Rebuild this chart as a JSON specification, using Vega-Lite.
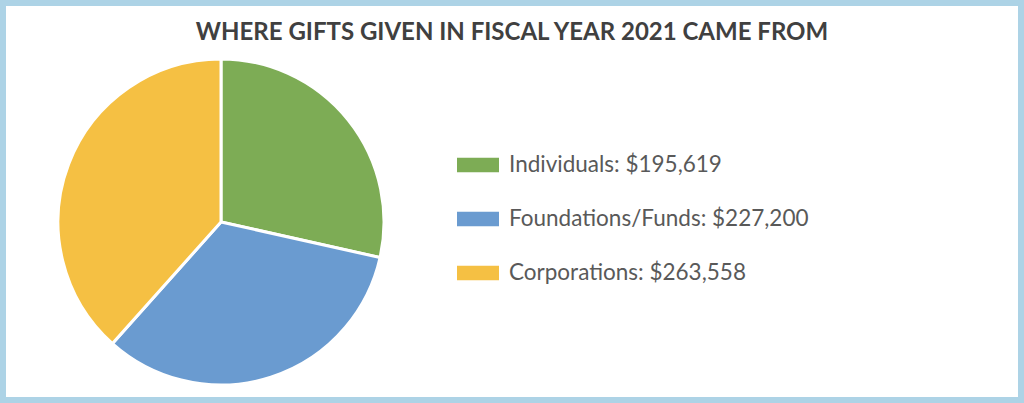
{
  "$schema": "https://vega.github.io/schema/vega-lite/v6.json",
  "width": 1024,
  "height": 403,
  "autosize": {"type": "fit", "contains": "padding"},
  "padding": 0,
  "background": "#ffffff",
  "config": {
    "view": {"stroke": "#ADD3E6", "strokeWidth": 12, "fill": "#ffffff"}
  },
  "title": {
    "text": "WHERE GIFTS GIVEN IN FISCAL YEAR 2021 CAME FROM",
    "font": "Lato",
    "fontSize": 24,
    "fontWeight": "bold",
    "color": "#404040",
    "anchor": "middle",
    "frame": "group",
    "orient": "top",
    "baseline": "top",
    "offset": -45
  },
  "data": {
    "values": [
      {"source": "Individuals", "amount": 195619},
      {"source": "Foundations/Funds", "amount": 227200},
      {"source": "Corporations", "amount": 263558}
    ]
  },
  "transform": [
    {"calculate": "datum.source + ': ' + format(datum.amount, '$,')", "as": "label"}
  ],
  "mark": {"type": "arc", "radius": 163, "stroke": "#ffffff", "strokeWidth": 3},
  "encoding": {
    "x": {"value": 221},
    "y": {"value": 222},
    "theta": {"field": "amount", "type": "quantitative", "stack": true},
    "order": {"field": "amount", "type": "quantitative", "sort": "ascending"},
    "color": {
      "field": "label",
      "type": "nominal",
      "sort": {"field": "amount", "op": "sum", "order": "ascending"},
      "scale": {"range": ["#7DAC55", "#6A9BD0", "#F5C043"]},
      "legend": {
        "title": null,
        "orient": "none",
        "legendX": 457,
        "legendY": 144,
        "padding": 0,
        "symbolType": "M-1,-0.35H1V0.35H-1Z",
        "symbolSize": 1764,
        "symbolStrokeWidth": 0,
        "symbolOpacity": 1,
        "labelFont": "Lato",
        "labelFontSize": 22.5,
        "labelColor": "#595959",
        "labelOffset": 10,
        "labelLimit": 500,
        "rowPadding": 21
      }
    }
  }
}
